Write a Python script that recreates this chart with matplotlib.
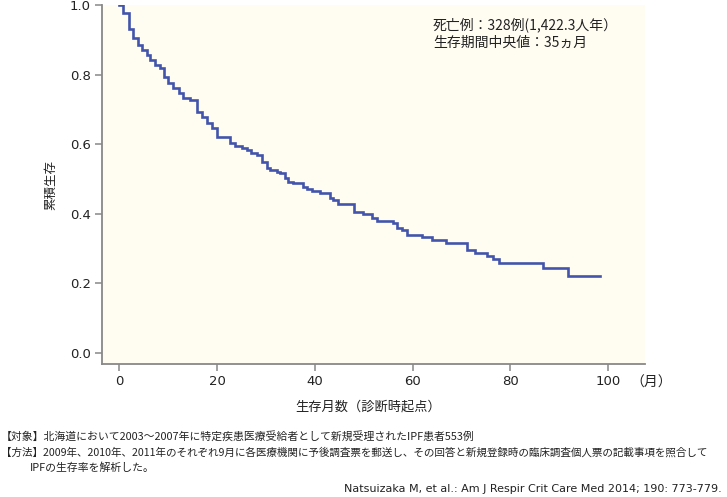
import numpy as np
import matplotlib
matplotlib.use("Agg")
import matplotlib.pyplot as plt

plt.rcParams['font.family'] = ['DejaVu Sans', 'Noto Sans CJK JP']
JP = ['Noto Sans CJK JP', 'DejaVu Sans']

# Kaplan-Meier steps (month, survival after the drop)
months = [0, 0.8, 2.0, 2.9, 3.9, 4.7, 5.7, 6.3, 7.4, 8.4, 9.2, 10.0, 11.0,
          12.3, 13.1, 14.5, 16.0, 17.0, 18.0, 19.0, 20.1, 22.7, 23.7, 25.2,
          26.2, 27.0, 28.2, 29.2, 30.3, 30.9, 32.3, 32.9, 33.9, 34.6, 35.6,
          37.6, 38.4, 39.5, 41.1, 43.1, 43.8, 44.8, 48.0, 49.9, 51.7, 52.8,
          56.0, 56.9, 57.9, 58.9, 62.0, 64.0, 66.9, 71.2, 72.8, 75.1, 76.5,
          77.7, 86.7, 91.8, 98.4]
survival = [1.0, 0.977, 0.931, 0.905, 0.885, 0.871, 0.856, 0.842, 0.827,
            0.819, 0.793, 0.776, 0.761, 0.747, 0.732, 0.727, 0.692, 0.678,
            0.660, 0.646, 0.620, 0.603, 0.594, 0.588, 0.583, 0.574, 0.568,
            0.548, 0.531, 0.525, 0.519, 0.516, 0.502, 0.491, 0.488, 0.476,
            0.470, 0.465, 0.459, 0.445, 0.439, 0.427, 0.404, 0.400, 0.387,
            0.378, 0.373, 0.358, 0.353, 0.338, 0.332, 0.324, 0.315, 0.295,
            0.286, 0.278, 0.268, 0.258, 0.243, 0.220, 0.220]

xticks = [0, 20, 40, 60, 80, 100]
yticks = [0.0, 0.2, 0.4, 0.6, 0.8, 1.0]

annot = ["死亡例：328例(1,422.3人年）", "生存期間中央値：35ヵ月"]
notes = [
    "【対象】北海道において2003～2007年に特定疾患医療受給者として新規受理されたIPF患者553例",
    "【方法】2009年、2010年、2011年のそれぞれ9月に各医療機関に予後調査票を郵送し、その回答と新規登録時の臨床調査個人票の記載事項を照合して",
    "IPFの生存率を解析した。",
]
note_x = [1, 1, 30]
note_size = [7.8, 7.6, 7.8]
citation = "Natsuizaka M, et al.: Am J Respir Crit Care Med 2014; 190: 773-779."

W, H = 727, 497
fig = plt.figure(figsize=(W / 100, H / 100), dpi=100)
ax = fig.add_axes([102 / W, 1 - 364 / H, (645 - 102) / W, (364 - 5) / H])
ax.set_facecolor('#FFFCF2')

ax.step(months, survival, where='post', color='#4354AC', lw=1.9,
        solid_joinstyle='miter')

ax.set_xlim(-3.5, 107.5)
ax.set_ylim(-0.033, 1.0)
ax.set_xticks(xticks)
ax.set_xticklabels([str(v) for v in xticks])
ax.set_yticks(yticks)
ax.set_yticklabels([f"{v:.1f}" for v in yticks])
for s in ['top', 'right']:
    ax.spines[s].set_visible(False)
for s in ['left', 'bottom']:
    ax.spines[s].set_color('#888888')
    ax.spines[s].set_linewidth(1.3)
ax.tick_params(length=5, width=1.1, color='#888888', labelsize=9.5,
               labelcolor='#222222', pad=3)
ax.set_ylabel("累積生存", family=JP, fontsize=9, color='#222222', labelpad=9)

fig.text(651 / W, 1 - 383 / H, "（月）", family=JP, fontsize=10,
         ha='center', va='center', color='#222222')
fig.text(368 / W, 1 - 407 / H, "生存月数（診断時起点）", family=JP, fontsize=9.5,
         ha='center', va='center', color='#222222')

for i, t in enumerate(annot):
    fig.text(433 / W, 1 - (25 + 18 * i) / H, t, family=JP, fontsize=10,
             ha='left', va='center', color='#222222')

for i, t in enumerate(notes):
    fig.text(note_x[i] / W, 1 - (436 + 16 * i) / H, t, family=JP,
             fontsize=note_size[i], ha='left', va='center', color='#222222')
fig.text(722 / W, 1 - 489 / H, citation, fontsize=8, ha='right', va='center',
         color='#222222')

fig.savefig("out.png", dpi=100)
